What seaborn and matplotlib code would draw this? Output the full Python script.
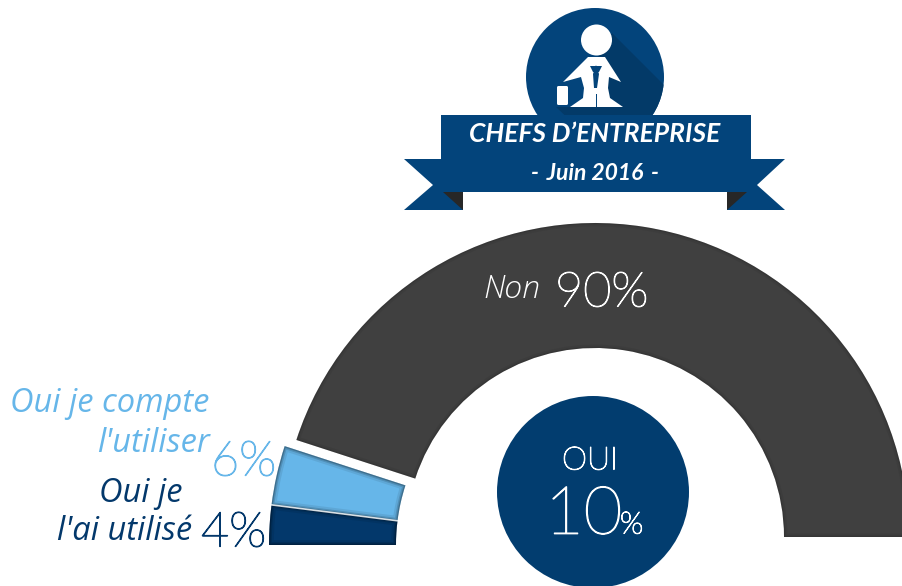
import numpy as np
import matplotlib
matplotlib.use('Agg')
import matplotlib.pyplot as plt
import matplotlib.patches as mpatches
import matplotlib.patheffects as pe
import seaborn as sns

# Survey shares (half donut, read left to right)
categories = ["Oui je l'ai utilisé", "Oui je compte l'utiliser", "Non"]
values = [4, 6, 90]
colors = ['#03386B', '#66B6E9', '#404040']
oui_total = 10

NAVY = '#03447B'
DISC = '#023D6F'

sns.set_theme(style='white')
plt.rcParams['font.family'] = ['Lato', 'DejaVu Sans']

W, H = 903, 586
fig = plt.figure(figsize=(W / 100, H / 100), dpi=100)
ax = fig.add_axes([0, 0, 1, 1])


def py(y):
    # picture pixels run downwards, the axes upwards
    return H - y


def half_ring(value_list, color_list, cx, cy, radius, ring, shown):
    # each share takes value% of a half circle, the other half stays hidden
    wedges, _ = ax.pie(value_list + [sum(value_list)], colors=color_list + ['none'],
                       startangle=180, counterclock=False, center=(cx, py(cy)),
                       radius=radius, frame=True,
                       wedgeprops={'width': ring, 'linewidth': 0})
    out = []
    for i, w in enumerate(wedges[:-1]):
        if i in shown:
            out.append(w)
        else:
            w.set_visible(False)
    wedges[-1].set_visible(False)
    return out


def inner_shadow(wedge, rims):
    # soft darker rim, kept inside the slice
    for lw, a in rims:
        rim = mpatches.PathPatch(wedge.get_path(), transform=wedge.get_transform(),
                                 fill=False, edgecolor='black', linewidth=lw, alpha=a)
        ax.add_patch(rim)
        rim.set_clip_path(wedge)


def thin_text(x, y, s, color, size, stroke=0.8, **kw):
    # the light face is a hairline here, a small stroke brings it to the right weight
    return ax.text(x, py(y), s, color=color, fontsize=size, fontweight='light',
                   va='center', path_effects=[pe.withStroke(linewidth=stroke, foreground=color)], **kw)


def label(x, y, s, color, size=23.5):
    return ax.text(x, py(y), s, color=color, fontsize=size, style='italic',
                   family='Open Sans', ha='right', va='center')


# dark slice sits a bit higher than the two "oui" slices
dark = half_ring(values, colors, 595, 537, 314, 125, [2])
oui = half_ring(values, colors, 589, 545, 320, 127, [0, 1])
for w in oui:
    inner_shadow(w, [(2, 0.22), (4, 0.14), (7, 0.08)])
inner_shadow(dark[0], [(2, 0.10), (5, 0.05)])

# white seam between the two blue slices
seam_a = np.deg2rad(180 - values[0] * 1.8)
ax.plot([589 + 193 * np.cos(seam_a), 589 + 320 * np.cos(seam_a)],
        [py(545) + 193 * np.sin(seam_a), py(545) + 320 * np.sin(seam_a)],
        color='white', lw=1.2, alpha=0.8)

# centre disc
ax.add_patch(mpatches.Circle((593, py(492)), 96, color=DISC, lw=0))
thin_text(590, 461, 'OUI', 'white', 23, ha='center')
thin_text(545, 516, f'{oui_total}', 'white', 48, stroke=0.9, ha='left')
thin_text(620, 525, '%', 'white', 22, ha='left')

# labels
ax.text(483, py(290), 'Non', color='white', fontsize=23, style='italic',
        family='Open Sans', fontweight='light', ha='left', va='center')
thin_text(555, 293, f'{values[2]}%', 'white', 35, ha='left')
label(209, 404, 'Oui je compte', colors[1])
label(210, 443, "l'utiliser", colors[1])
thin_text(211, 462, f'{values[1]}%', colors[1], 35, stroke=0.9, ha='left')
label(183, 493, 'Oui je', colors[0])
label(192, 532, "l'ai utilisé", colors[0])
thin_text(201, 533, f'{values[0]}%', colors[0], 35, stroke=0.9, ha='left')


# badge: disc with long shadow, little businessman, ribbon
def poly(pts, color, z=3):
    ax.add_patch(mpatches.Polygon([(x, py(y)) for x, y in pts], closed=True,
                                  color=color, lw=0, zorder=z))


disc = mpatches.Circle((595, py(77)), 69, color=NAVY, lw=0, zorder=3)
ax.add_patch(disc)
shadow = mpatches.Polygon([(x, py(y)) for x, y in
                           [(612, 33), (664, 85), (664, 125), (575, 125), (556, 107), (600, 107), (596, 60)]],
                          closed=True, color='#033A68', lw=0, zorder=3)
ax.add_patch(shadow)
shadow.set_clip_path(disc)

ax.add_patch(mpatches.Circle((596.5, py(40)), 15.5, color='white', lw=0, zorder=4))
poly([(588, 57), (605, 57), (621, 82), (609, 77), (608, 88), (610, 98), (623, 107), (570, 107),
      (583, 98), (584, 88), (581, 77), (563, 82)], 'white', 4)
poly([(596, 65), (599, 74), (597, 88), (594, 88), (593, 74)], NAVY, 5)
poly([(590, 66), (602, 66), (599, 72), (593, 72)], NAVY, 5)
poly([(596.5, 94), (597.5, 94), (597.5, 107), (596.5, 107)], NAVY, 5)
ax.add_patch(mpatches.FancyBboxPatch((557, py(105)), 11, 19,
                                     boxstyle='round,pad=0,rounding_size=1.5',
                                     color='white', lw=0, zorder=4))

poly([(441, 115), (751, 115), (751, 192), (441, 192)], NAVY, 6)
poly([(404, 159), (441, 159), (441, 192), (463, 192), (463, 210), (404, 210), (433, 185)], NAVY, 5)
poly([(785, 159), (751, 159), (751, 192), (727, 192), (727, 210), (785, 210), (757, 185)], NAVY, 5)
poly([(443, 192), (463, 192), (463, 210)], '#272727', 6)
poly([(747, 192), (727, 192), (727, 210)], '#272727', 6)
ax.text(595, py(134), "CHEFS D’ENTREPRISE", color='white', fontsize=19, style='italic',
        fontweight='bold', ha='center', va='center', zorder=7)
ax.text(595, py(173), '-\u2009 Juin 2016 \u2009-', color='white', fontsize=16.5, style='italic',
        fontweight='bold', ha='center', va='center', zorder=7)

ax.set_xlim(0, W)
ax.set_ylim(0, H)
ax.set_aspect('auto')
ax.axis('off')
fig.savefig('out.png', dpi=100, facecolor='white')
